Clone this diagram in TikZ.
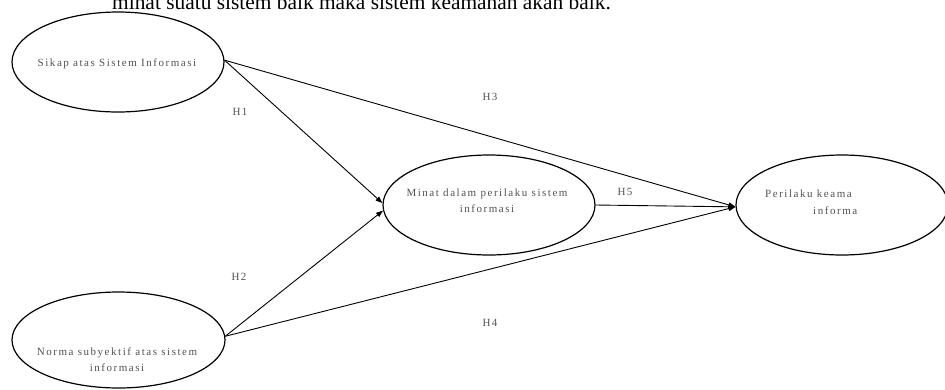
\documentclass[tikz,border=0pt]{standalone}
\usepackage{fontspec}
\setmainfont{Liberation Serif}
\newfontfamily\lblfont[LetterSpace=14]{Liberation Serif}
\usetikzlibrary{shapes.geometric,arrows.meta}
\tikzset{
  ell/.style={draw, ellipse, inner sep=0pt, line width=1.2pt},
  lbl/.style={inner sep=0pt, text=black!68, font=\lblfont\fontsize{11}{16}\selectfont, align=center},
  conn/.style={draw, line width=0.9pt, -{Triangle[length=7pt,width=5pt]}}
}
\begin{document}
\begin{tikzpicture}[x=1pt,y=-1pt]
\useasboundingbox (0,0) rectangle (945,389);
\clip (0,0) rectangle (945,389);
% top text (cut off at the top edge, as in the reference)
\node[anchor=base west, inner sep=0pt, font=\fontsize{21.4}{24}\selectfont] (top) at (112,9) {minat suatu sistem baik maka sistem keamanan akan baik.};
% ellipses
\node[ell, minimum width=212pt, minimum height=100pt] (e1) at (118,62) {};
\node[ell, minimum width=213pt, minimum height=96pt] (e2) at (118.5,340) {};
\node[ell, minimum width=212pt, minimum height=100pt] (e3) at (489,205) {};
\node[ell, minimum width=212pt, minimum height=100pt] (e4) at (842,205) {};
% texts
\node[lbl] (t1) at (117,64) {Sikap atas Sistem Informasi};
\node[lbl] (t2) at (117,360) {Norma subyektif atas sistem\\informasi};
\node[lbl] (t3) at (487,201) {Minat dalam perilaku  sistem\\informasi};
\begin{scope}
\clip (740,150) rectangle (858,260);
\node[lbl, anchor=west] (t4a) at (765,194) {Perilaku keama};
\node[lbl, anchor=west] (t4b) at (813,211) {informa};
\end{scope}
% connectors
\draw[conn] (e1.1) -- (e3.179);
\draw[conn] (e1.1) -- (e4.181);
\draw[conn] (e2.2) -- (e3.183);
\draw[conn] (e2.2) -- (e4.181);
\draw[conn] (e3.east) -- (e4.181);
% hypothesis labels
\node[lbl] (h1) at (240,112) {H1};
\node[lbl] (h2) at (239,277) {H2};
\node[lbl] (h3) at (490,97) {H3};
\node[lbl] (h4) at (490,323) {H4};
\node[lbl] (h5) at (625,192) {H5};
\end{tikzpicture}
\end{document}
